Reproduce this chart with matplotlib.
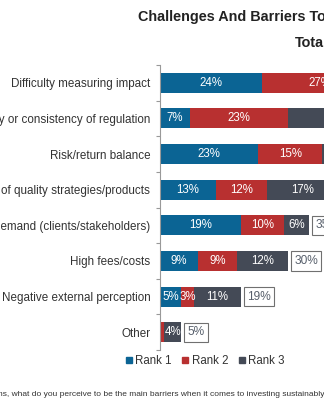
import matplotlib
matplotlib.use("Agg")
import matplotlib.pyplot as plt
from matplotlib.lines import Line2D
import numpy as np

plt.rcParams['font.family'] = ['Liberation Sans', 'DejaVu Sans']

categories = [
    "Difficulty measuring impact",
    "Lack of clarity or consistency of regulation",
    "Risk/return balance",
    "Lack of quality strategies/products",
    "Lack of demand (clients/stakeholders)",
    "High fees/costs",
    "Negative external perception",
    "Other",
]
rank1 = [24, 7, 23, 13, 19, 9, 5, 0]
rank2 = [27, 23, 15, 12, 10, 9, 3, 1]
rank3 = [12, 22, 13, 17, 6, 12, 11, 4]
totals = [63, 52, 51, 42, 35, 30, 19, 5]
series_names = ["Rank 1", "Rank 2", "Rank 3"]
colors = ["#0B6494", "#B83030", "#444A56"]

W, H = 324, 400
fig = plt.figure(figsize=(W / 100, H / 100), dpi=100)
ax = fig.add_axes([160 / W, (H - 350) / H, (W - 160) / W, 285 / H])

y = np.arange(len(categories))
left = np.zeros(len(categories))
for vals, name, col in zip([rank1, rank2, rank3], series_names, colors):
    ax.barh(y, vals, left=left, height=0.56, color=col, label=name)
    for i, v in enumerate(vals):
        if v >= 3:
            ax.text(left[i] + v / 2, i, f"{v}%", ha='center', va='center',
                    color='white', fontsize=8.3, clip_on=False)
    left = left + np.array(vals)

for i, t in enumerate(totals):
    ax.annotate(f"{t}%", xy=(left[i], i), xytext=(6, 0), textcoords='offset pixels',
                ha='left', va='center', fontsize=8.6, color='#58606C',
                bbox=dict(boxstyle='square,pad=0.3', fc='white', ec='#707070', lw=0.8),
                annotation_clip=False)

ax.set_xlim(0, (W - 160) / 4.27)
ax.set_ylim(len(categories) - 0.5, -0.5)
ax.set_yticks(y)
ax.set_yticklabels(categories, fontsize=8.4, color='#333333')
ax.tick_params(axis='y', which='major', length=0, pad=7)
ax.set_yticks(np.arange(-0.5, len(categories), 1), minor=True)
ax.tick_params(axis='y', which='minor', length=3, color='#999999', width=0.8, direction='out')
ax.set_xticks([])
for s in ['top', 'right', 'bottom']:
    ax.spines[s].set_visible(False)
ax.spines['left'].set_color('#999999')
ax.spines['left'].set_linewidth(0.8)

fig.text(138 / W, 1 - 17 / H, "Challenges And Barriers To Sustainable Investing",
         fontsize=10.4, fontweight='bold', color='#222222', ha='left', va='center')
fig.text(295 / W, 1 - 43 / H, "Total", fontsize=10.4, fontweight='bold',
         color='#222222', ha='left', va='center')

handles = [Line2D([], [], marker='s', linestyle='none', markersize=4,
                  markerfacecolor=c, markeredgecolor=c) for c in colors]
fig.legend(handles, series_names, loc='center left', bbox_to_anchor=(124 / W, 1 - 361 / H),
           ncol=3, frameon=False, fontsize=8.3, handletextpad=0.15, columnspacing=0.8,
           handlelength=0.8, labelcolor='#333333', borderpad=0, borderaxespad=0)

fig.text(-2 / W, 1 - 394 / H,
         "ns, what do you perceive to be the main barriers when it comes to investing sustainably?",
         fontsize=6.05, color='#333333', ha='left', va='center')

fig.savefig("out.png", dpi=100)
